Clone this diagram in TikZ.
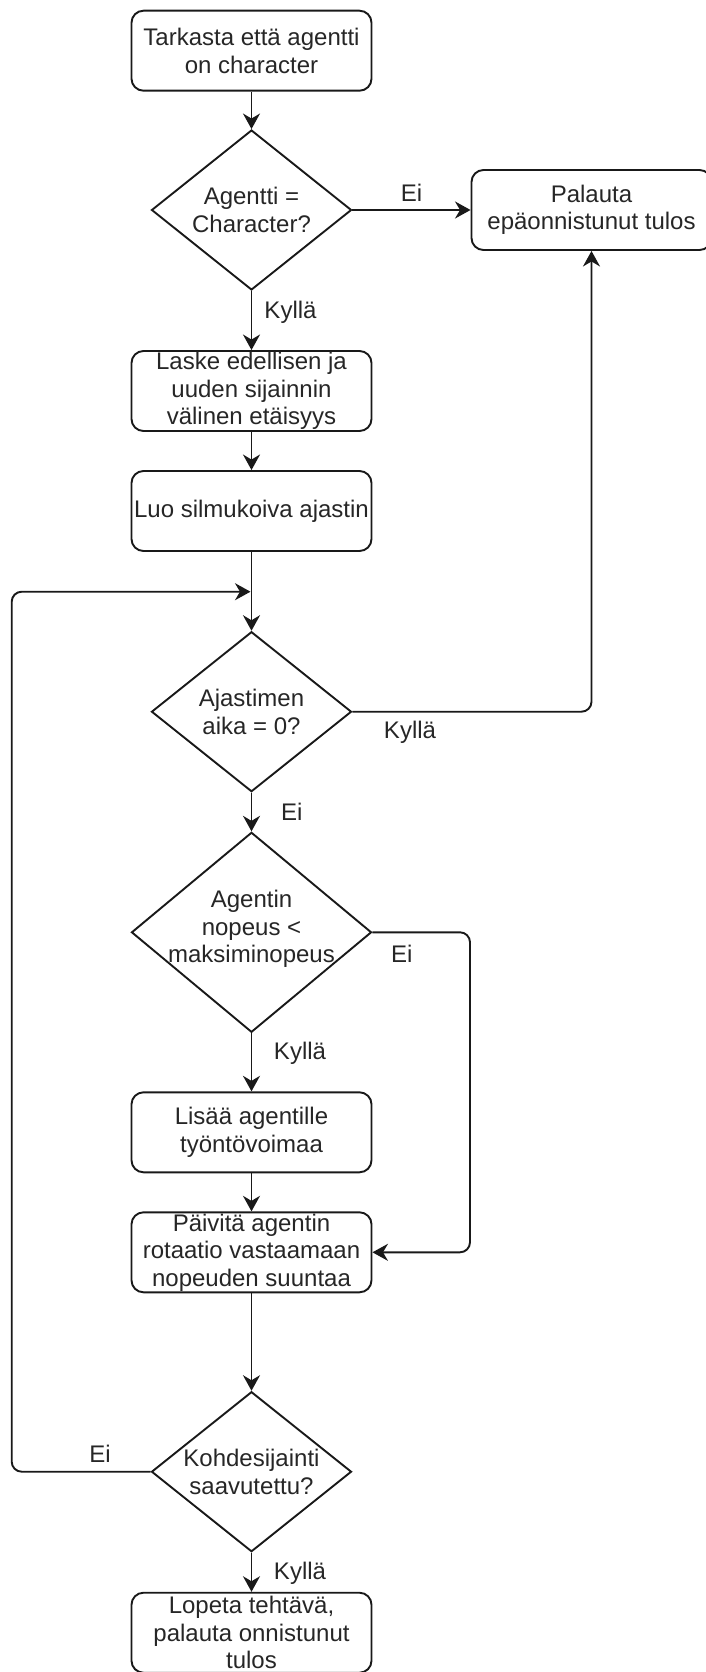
\documentclass[tikz,border=0pt]{standalone}
\usepackage{fontspec}
\setmainfont{Liberation Sans}
\usetikzlibrary{arrows.meta,shapes.geometric}
\tikzset{
  txt/.style={font=\fontsize{24}{27.5}\selectfont, text=black!85, inner sep=0pt, align=center},
  procbox/.style={txt, draw=black!90, line width=1.9pt, rounded corners=12pt,
                  minimum width=240pt, minimum height=80pt},
  decision/.style={draw=black!90, line width=1.9pt, diamond, inner sep=0pt},
  flow/.style={draw=black!90, line width=1.9pt,
               -{Stealth[length=15.5pt,width=17pt,inset=5pt]}},
  elbowflow/.style={flow, rounded corners=10pt},
  edgetxt/.style={txt}
}
\begin{document}
\begin{tikzpicture}[x=1pt,y=-1pt]
\useasboundingbox (0,0) rectangle (705,1672);

% process steps
\node[procbox] (start)   at (251.5,50.7)   {Tarkasta että agentti\\on character};
\node[procbox] (fail)    at (591.5,210)    {Palauta\\epäonnistunut tulos};
\node[procbox] (laske)   at (251.5,391)    {Laske edellisen ja\\uuden sijainnin\\välinen etäisyys};
\node[procbox] (luo)     at (251.5,511)    {Luo silmukoiva ajastin};
\node[procbox] (lisaa)   at (251.5,1132.3) {Lisää agentille\\työntövoimaa};
\node[procbox] (paivita) at (251.5,1252.3) {Päivitä agentin\\rotaatio vastaamaan\\nopeuden suuntaa};
\node[procbox] (lopeta)  at (251.5,1632.7) {Lopeta tehtävä,\\palauta onnistunut\\tulos};

% decisions (outline and text set separately so the text may overflow)
\node[decision, minimum width=200pt, minimum height=160pt] (d1) at (251.5,210) {};
\node[txt] (d1t) at (d1) {Agentti =\\Character?};
\node[decision, minimum width=200pt, minimum height=160pt] (d2) at (251.5,711.7) {};
\node[txt] (d2t) at (d2) {Ajastimen\\aika = 0?};
\node[decision, minimum width=240pt, minimum height=200pt] (d3) at (251.5,932.3) {};
\node[txt] (d3t) at (251.5,929) {Agentin\\nopeus <\\maksiminopeus};
\node[decision, minimum width=200pt, minimum height=160pt] (d4) at (251.5,1471.7) {};
\node[txt] (d4t) at (d4) {Kohdesijainti\\saavutettu?};

% helper points
\coordinate (merge) at (251.5,591.7);
\coordinate (rightA) at (591.5,711.7);
\coordinate (rightB) at (470,932.3);
\coordinate (rightC) at (470,1252.3);
\coordinate (leftA) at (11.7,1471.7);
\coordinate (leftB) at (11.7,591.7);

% connectors
\draw[flow] (start) -- (d1);
\draw[flow] (d1.east) -- (fail.west);
\draw[flow] (d1) -- (laske);
\draw[flow] (laske) -- (luo);
\draw[flow] (luo) -- (d2);
\draw[elbowflow] (d2.east) -- (rightA) -- (fail.south);
\draw[flow] (d2) -- (d3);
\draw[elbowflow] (d3.east) -- (rightB) -- (rightC) -- (paivita.east);
\draw[flow] (d3) -- (lisaa);
\draw[flow] (lisaa) -- (paivita);
\draw[flow] (paivita) -- (d4);
\draw[elbowflow, shorten >=1pt] (d4.west) -- (leftA) -- (leftB) -- (merge);
\draw[flow] (d4) -- (lopeta);

% connector labels
\node[edgetxt] (e1) at (411.5,193)   {Ei};
\node[edgetxt] (k1) at (290.5,312)   {Kyllä};
\node[edgetxt] (k2) at (410,732)     {Kyllä};
\node[edgetxt] (e2) at (291.7,811.7) {Ei};
\node[edgetxt] (e3) at (401.7,953.3) {Ei};
\node[edgetxt] (k3) at (300,1053.3)  {Kyllä};
\node[edgetxt] (e4) at (100,1454)    {Ei};
\node[edgetxt] (k4) at (300,1573.3)  {Kyllä};
\end{tikzpicture}
\end{document}
